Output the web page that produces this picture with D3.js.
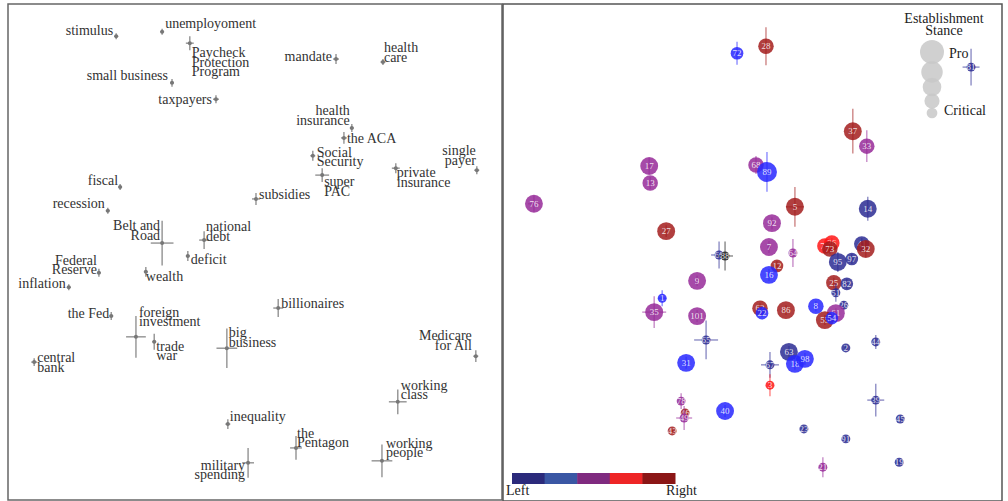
<!DOCTYPE html>
<html><head><meta charset="utf-8">
<script src="https://cdn.jsdelivr.net/npm/d3@7"></script>
<style>body{margin:0;background:#fff}svg{display:block}</style>
</head><body>
<svg id="chart" width="1008" height="501"></svg>
<script>
// ---------- Left panel: terms ----------
const termNames = ["stimulus","unemployoment","Paycheck\nProtection\nProgram","small business","taxpayers","mandate","health\ncare","health\ninsurance","the ACA","Social\nSecurity","single\npayer","private\ninsurance","super\nPAC","subsidies","fiscal","recession","Belt and\nRoad","national\ndebt","deficit","Federal\nReserve","wealth","inflation","the Fed","foreign\ninvestment","trade\nwar","big\nbusiness","central\nbank","billionaires","Medicare\nfor All","working\nclass","inequality","the\nPentagon","working\npeople","military\nspending"];
const termX = [21.9,31.2,36.8,33.2,42.1,66.4,75.9,69.6,68.0,61.7,94.9,78.5,63.6,50.2,22.7,20.2,31.2,39.7,36.4,18.4,27.9,12.3,20.9,25.9,29.6,44.3,5.3,54.7,94.7,78.9,44.5,58.3,75.7,48.6];
const termY = [93.5,94.4,92.1,84.1,80.8,88.9,88.3,75.0,73.0,69.4,66.5,66.9,65.5,60.7,63.1,58.3,51.8,52.4,49.2,45.8,46.0,42.9,37.1,32.9,31.9,30.6,27.8,38.7,29.0,19.8,15.3,10.5,7.9,7.5];
const termErrX = [0.4,0.4,0.8,0.4,0.6,0.6,0.5,0.4,0.6,0.5,0.5,0.8,1.4,0.8,0.4,0.4,2.3,1.0,0.4,0.4,0.4,0.4,0.4,2.0,0.4,2.1,0.6,1.0,0.5,1.8,0.5,1.2,2.1,1.2];
const termErrY = [0.6,0.6,1.4,0.8,0.8,1.0,0.6,0.8,1.2,1.0,0.8,1.0,1.4,1.2,0.6,0.6,4.5,1.8,1.0,0.8,1.0,0.6,0.8,4.2,1.6,4.0,0.8,1.8,1.2,2.5,1.0,2.4,3.3,3.0];

// label layout (anchor, dx, dy of first baseline) – presentation only
const labelLayout = {
 "stimulus":["end",-3,-1],"unemployoment":["start",3,-4],"Paycheck\nProtection\nProgram":["start",2,14],
 "small business":["end",-4,-3],"taxpayers":["end",-4,5],"mandate":["end",-4,2],"health\ncare":["start",1,-10],
 "health\ninsurance":["end",-2,-13],"the ACA":["start",3,5],"Social\nSecurity":["start",4,1],"single\npayer":["end",-1,-15],
 "private\ninsurance":["start",1,9],"super\nPAC":["start",2,11],"subsidies":["start",3,0],"fiscal":["end",-2,-2],
 "recession":["end",-3,-3],"Belt and\nRoad":["end",-2,-13],"national\ndebt":["start",2,-9],"deficit":["start",3,8],
 "Federal\nReserve":["end",-2,-8],"wealth":["start",0,9],"inflation":["end",-3,1],"the Fed":["end",-2,2],
 "foreign\ninvestment":["start",3,-20],"trade\nwar":["start",2,9],"big\nbusiness":["start",2,-11],"central\nbank":["start",3,0],
 "billionaires":["start",3,0],"Medicare\nfor All":["end",-4,-16],"working\nclass":["start",3,-12],"inequality":["start",2,-3],
 "the\nPentagon":["start",1,-10],"working\npeople":["start",4,-13],"military\nspending":["end",-3,7]
};

// ---------- Right panel: outlets ----------
const outletIds = ["72","28","81","37","33","17","68","89","13","76","5","14","92","27","7","64","79","36","73","41","32","95","97","66","88","12","16","9","25","82","51","1","26","8","62","22","86","35","101","61","55","54","65","31","2","44","63","18","98","67","3","39","78","40","45","46","49","43","23","91","21","19"];
const outletX = [46.9,52.7,93.8,70.1,72.9,29.3,50.7,52.9,29.5,6.2,58.5,73.1,53.9,32.7,53.3,58.1,64.5,65.9,65.5,71.9,72.7,67.1,69.9,43.3,44.5,54.9,53.3,38.9,66.3,68.9,66.7,31.9,68.3,62.7,51.5,51.9,56.7,30.3,38.9,66.7,64.5,65.9,40.7,36.7,68.7,74.7,57.3,58.5,60.5,53.5,53.5,74.7,35.7,44.5,79.6,36.5,36.3,33.9,60.3,68.7,64.1,79.4];
const outletY = [90.1,91.5,87.3,74.4,71.4,67.4,67.6,66.2,64.0,59.8,59.2,58.8,55.9,54.3,51.1,49.9,51.3,51.9,50.7,51.7,50.7,48.1,48.7,49.5,49.3,47.3,45.5,44.3,43.9,43.7,41.9,40.8,39.4,39.2,38.8,37.8,38.4,38.0,37.2,37.8,36.4,36.8,32.4,27.8,30.8,32.0,30.0,27.6,28.6,27.4,23.3,20.3,20.1,18.1,16.5,17.7,16.7,14.1,14.5,12.5,6.8,7.8];
const outletStance = [2,3,1,4,3,4,3,5,3,4,4,4,4,4,4,1,3,3,3,3,4,4,2,1,1,2,4,4,3,2,1,1,1,3,3,2,4,4,4,4,4,2,1,4,1,1,4,4,4,1,1,1,1,4,1,1,1,1,1,1,1,1];
// 0 far left, 1 left, 2 centre, 3 right, 4 far right, 5 unrated
const outletLean = [1,4,0,4,2,2,2,1,2,2,4,0,2,4,2,2,3,3,4,0,4,0,0,0,5,4,1,2,4,0,0,1,0,1,4,1,4,2,2,2,4,1,0,1,0,0,0,1,1,0,3,0,2,1,0,4,2,4,0,0,2,0];
const outletErrX = [0.3,0.4,1.7,0.5,0.4,0.5,0.5,0.6,0.4,1.2,1.8,0.5,0.4,0.4,0.4,0.3,0.5,0.5,0.5,0.5,0.5,0.5,0.4,1.6,1.6,0.4,0.5,0.5,0.5,0.4,0.3,0.8,0.3,0.5,0.5,0.4,0.5,2.4,0.5,0.5,0.5,0.4,2.4,0.5,0.3,0.3,0.5,0.5,0.5,1.8,0.3,1.7,0.4,0.5,0.3,0.3,1.6,0.3,0.3,0.3,0.3,0.3];
const outletErrY = [2.3,3.8,3.7,4.5,3.2,1.6,1.8,4.0,1.2,1.6,4.0,2.4,1.2,1.2,1.2,2.8,1.0,1.0,1.0,1.2,1.6,2.0,1.0,2.7,2.9,1.0,1.2,1.0,1.0,1.0,1.8,1.6,0.8,1.0,1.0,0.8,1.0,3.2,1.2,1.0,1.0,0.8,3.9,1.2,0.6,1.4,1.2,1.2,1.2,2.6,2.2,3.3,1.6,1.2,0.6,0.8,2.4,0.6,0.6,0.6,2.0,0.6];

const leanColors = ["#2b2b93","#2727ff","#972a99","#ff1616","#a31d1d","#222222"];
const legendColors = ["#2b2a7b","#3a57a4","#7f2a7f","#ee2526","#8b1616"];
const legendStance = [5,4,3,2,1];

const svg = d3.select("#chart");
const serif = "'Liberation Serif','Times New Roman',serif";

// scales
const lx = d3.scaleLinear().domain([0,100]).range([8,502]);
const ly = d3.scaleLinear().domain([0,100]).range([500,4]);
const rx = d3.scaleLinear().domain([0,100]).range([503,1002]);
const ry = d3.scaleLinear().domain([0,100]).range([501,4]);
const rSize = d3.scaleSqrt().domain([0,5]).range([0,10]);
const rLegend = d3.scaleSqrt().domain([0,5]).range([0,12]);

// panel frames
svg.append("rect").attr("x",8).attr("y",4).attr("width",494).attr("height",496)
  .attr("fill","none").attr("stroke","#666").attr("stroke-width",1.5);
svg.append("rect").attr("x",503).attr("y",4).attr("width",499).attr("height",497)
  .attr("fill","none").attr("stroke","#555").attr("stroke-width",1.5);

// left panel
const terms = termNames.map((n,i)=>({n,x:termX[i],y:termY[i],ex:termErrX[i],ey:termErrY[i]}));
const gL = svg.append("g");
const tg = gL.selectAll("g.term").data(terms).join("g").attr("class","term");
tg.append("line").attr("x1",d=>lx(d.x-d.ex)).attr("x2",d=>lx(d.x+d.ex)).attr("y1",d=>ly(d.y)).attr("y2",d=>ly(d.y))
  .attr("stroke","#999").attr("stroke-width",1.5);
tg.append("line").attr("x1",d=>lx(d.x)).attr("x2",d=>lx(d.x)).attr("y1",d=>ly(d.y-d.ey)).attr("y2",d=>ly(d.y+d.ey))
  .attr("stroke","#999").attr("stroke-width",1.5);
tg.append("circle").attr("cx",d=>lx(d.x)).attr("cy",d=>ly(d.y)).attr("r",2).attr("fill","#777");
tg.each(function(d){
  const L = labelLayout[d.n];
  const t = d3.select(this).append("text").attr("x",lx(d.x)+L[1]).attr("y",ly(d.y)+L[2])
    .attr("text-anchor",L[0]).attr("font-family",serif).attr("font-size",14).attr("fill","#333");
  d.n.split("\n").forEach((s,k)=>{
    t.append("tspan").attr("x",lx(d.x)+L[1]).attr("dy",k===0?0:9.5).text(s);
  });
});

// right panel
const outlets = outletIds.map((id,i)=>({id,x:outletX[i],y:outletY[i],s:outletStance[i],c:leanColors[outletLean[i]],ex:outletErrX[i],ey:outletErrY[i]}));
const gR = svg.append("g");
const og = gR.selectAll("g.outlet").data(outlets).join("g").attr("class","outlet");
og.append("circle").attr("cx",d=>rx(d.x)).attr("cy",d=>ry(d.y)).attr("r",d=>rSize(d.s))
  .attr("fill",d=>d.c).attr("fill-opacity",0.85);
og.append("line").attr("x1",d=>rx(d.x-d.ex)).attr("x2",d=>rx(d.x+d.ex)).attr("y1",d=>ry(d.y)).attr("y2",d=>ry(d.y))
  .attr("stroke",d=>d.c).attr("stroke-opacity",0.5).attr("stroke-width",1.5);
og.append("line").attr("x1",d=>rx(d.x)).attr("x2",d=>rx(d.x)).attr("y1",d=>ry(d.y-d.ey)).attr("y2",d=>ry(d.y+d.ey))
  .attr("stroke",d=>d.c).attr("stroke-opacity",0.5).attr("stroke-width",1.5);
og.append("text").attr("x",d=>rx(d.x)).attr("y",d=>ry(d.y)+3).attr("text-anchor","middle")
  .attr("font-family",serif).attr("font-size",9).attr("fill","#fff").attr("fill-opacity",0.85).text(d=>d.id);

// colour legend
const barX = d3.scaleBand().domain(d3.range(legendColors.length)).range([512,675]).paddingInner(0);
svg.append("g").selectAll("rect").data(legendColors).join("rect")
  .attr("x",(d,i)=>barX(i)).attr("y",473).attr("width",barX.bandwidth()+0.5).attr("height",11).attr("fill",d=>d);
svg.append("text").attr("x",506).attr("y",495).attr("font-family",serif).attr("font-size",14).attr("fill","#222").text("Left");
svg.append("text").attr("x",697).attr("y",495).attr("text-anchor","end").attr("font-family",serif).attr("font-size",14).attr("fill","#222").text("Right");

// size legend
const sl = svg.append("g");
sl.append("text").attr("x",944).attr("y",23).attr("text-anchor","middle").attr("font-family",serif).attr("font-size",14).attr("fill","#222").text("Establishment");
sl.append("text").attr("x",944).attr("y",35).attr("text-anchor","middle").attr("font-family",serif).attr("font-size",14).attr("fill","#222").text("Stance");
const legY = [52,72,87,101,113];
sl.selectAll("circle").data(legendStance).join("circle")
  .attr("cx",932).attr("cy",(d,i)=>legY[i]).attr("r",d=>rLegend(d)).attr("fill","#c8c8c8").attr("fill-opacity",0.85);
sl.append("text").attr("x",949).attr("y",58).attr("font-family",serif).attr("font-size",14).attr("fill","#222").text("Pro");
sl.append("text").attr("x",944).attr("y",115).attr("font-family",serif).attr("font-size",14).attr("fill","#222").text("Critical");
</script>
</body></html>
